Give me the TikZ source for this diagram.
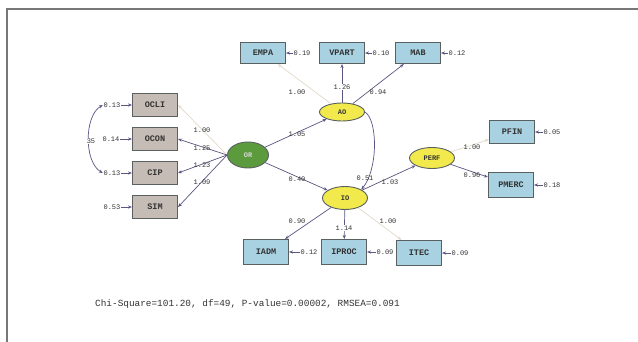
\documentclass[tikz,border=0pt]{standalone}
\usepackage{fontspec}
\newfontfamily\diagmono{Liberation Mono}
\usetikzlibrary{arrows.meta,shapes.geometric}

\definecolor{boxblue}{HTML}{A8D2E2}
\definecolor{boxgrey}{HTML}{C6BCB6}
\definecolor{latyellow}{HTML}{F2EA4C}
\definecolor{latgreen}{HTML}{5C9A3E}
\definecolor{edgedark}{HTML}{5A6060}
\definecolor{linec}{HTML}{5C5582}
\definecolor{faintc}{HTML}{E2DACA}
\definecolor{txt}{HTML}{333333}
\definecolor{framec}{HTML}{777777}

\tikzset{
  obs/.style={rectangle, draw=edgedark, line width=1.1pt, fill=#1,
    minimum width=45pt, minimum height=23pt, inner sep=0pt,
    font=\diagmono\bfseries\fontsize{8.5}{9}\selectfont, text=txt},
  obs/.default=boxblue,
  lat/.style={ellipse, draw=edgedark, line width=0.9pt, fill=#1,
    minimum width=45pt, minimum height=20pt, inner sep=0pt,
    font=\diagmono\bfseries\fontsize{7}{8}\selectfont, text=txt},
  val/.style={font=\diagmono\fontsize{7}{8}\selectfont, text=txt, inner sep=0.6pt},
  lbl/.style={val, fill=white},
  tip/.style={-{Stealth[length=4pt,width=3.2pt]}},
  loadline/.style={draw=linec, line width=0.7pt, tip},
  fixedline/.style={draw=faintc, line width=0.7pt, tip},
  errline/.style={draw=linec, line width=0.8pt, tip},
}

\begin{document}
\begin{tikzpicture}[x=1pt,y=-1pt]
  \useasboundingbox (0,0) rectangle (638,342);
  \fill[white] (0,0) rectangle (638,342);

  % frame
  \draw[framec, line width=1.3pt] (7,342) -- (7,9) -- (638,9);

  % observed indicators
  \node[obs=boxgrey] (OCLI) at (155,105) {OCLI};
  \node[obs=boxgrey] (OCON) at (155,139) {OCON};
  \node[obs=boxgrey] (CIP)  at (155,173) {CIP};
  \node[obs=boxgrey] (SIM)  at (155,207) {SIM};

  \node[obs, minimum height=21pt] (EMPA)  at (263,53) {EMPA};
  \node[obs, minimum height=21pt] (VPART) at (342,53) {VPART};
  \node[obs, minimum height=21pt] (MAB)   at (418,53) {MAB};

  \node[obs, minimum height=25pt] (IADM)  at (266,252) {IADM};
  \node[obs, minimum height=25pt] (IPROC) at (344,252) {IPROC};
  \node[obs, minimum height=25pt] (ITEC)  at (419,253) {ITEC};

  \node[obs] (PFIN)  at (512,132) {PFIN};
  \node[obs, minimum height=25pt] (PMERC) at (511,185) {PMERC};

  % latent variables
  \node[lat=latgreen, minimum width=41pt, minimum height=26pt, text=white!85!black] (OR) at (248,155) {OR};
  \node[lat=latyellow, minimum height=18pt] (AO)   at (342,112) {AO};
  \node[lat=latyellow, minimum height=23pt] (IO)   at (345,198) {IO};
  \node[lat=latyellow, minimum height=21pt] (PERF) at (432,158) {PERF};

  % error variances
  \node[val] (eOCLI) at (112,105) {0.13};
  \node[val] (eOCON) at (111,139) {0.14};
  \node[val] (eCIP)  at (112,173) {0.13};
  \node[val] (eSIM)  at (112,207) {0.53};
  \node[val] (eEMPA)  at (302,53) {0.19};
  \node[val] (eVPART) at (381,53) {0.10};
  \node[val] (eMAB)   at (457,53) {0.12};
  \node[val] (eIADM)  at (309,252) {0.12};
  \node[val] (eIPROC) at (385,252) {0.09};
  \node[val] (eITEC)  at (460,253) {0.09};
  \node[val] (ePFIN)  at (552,132) {0.05};
  \node[val] (ePMERC) at (552,185) {0.18};

  \foreach \e/\v in {eOCLI/OCLI, eOCON/OCON, eCIP/CIP, eSIM/SIM}
    \draw[errline] (\e.east) -- (\v.west);
  \foreach \e/\v in {eEMPA/EMPA, eVPART/VPART, eMAB/MAB, eIADM/IADM,
                     eIPROC/IPROC, eITEC/ITEC, ePFIN/PFIN, ePMERC/PMERC}
    \draw[errline] (\e.west) -- (\v.east);

  % error covariance
  \draw[linec, line width=0.7pt, {Stealth[length=4pt,width=3.2pt]}-{Stealth[length=4pt,width=3.2pt]}]
    (eOCLI.west) .. controls (84,116) and (84,162) .. (eCIP.west);
  \node[lbl] (cov) at (91,141) {35};

  % loadings of OR
  \draw[fixedline] (OR.west) -- (OCLI.east);
  \draw[loadline]  (OR.west) -- (OCON.east);
  \draw[loadline]  (OR.west) -- (CIP.east);
  \draw[loadline]  (OR.west) -- (SIM.east);
  \node[val] (l1) at (202,130) {1.00};
  \node[val] (l2) at (202,148) {1.25};
  \node[val] (l3) at (202,165) {1.23};
  \node[val] (l4) at (202,182) {1.09};

  % loadings of AO
  \draw[fixedline] (AO) -- (EMPA);
  \draw[loadline]  (AO) -- (VPART);
  \draw[loadline]  (AO) -- (MAB);
  \node[val] (l5) at (297,92) {1.00};
  \node[lbl] (l6) at (342,87) {1.26};
  \node[val] (l7) at (378,92) {0.94};

  % loadings of IO
  \draw[loadline]  (IO) -- (IADM);
  \draw[loadline]  (IO) -- (IPROC);
  \draw[fixedline] (IO) -- (ITEC);
  \node[val] (l8)  at (297,221) {0.90};
  \node[lbl] (l9)  at (344,228) {1.14};
  \node[val] (l10) at (388,221) {1.00};

  % loadings of PERF
  \draw[fixedline] (PERF) -- (PFIN);
  \draw[loadline]  (PERF) -- (PMERC);
  \node[val] (l11) at (472,147) {1.00};
  \node[val] (l12) at (472,175) {0.96};

  % structural paths
  \draw[loadline] (OR) -- (AO);
  \draw[loadline] (OR) -- (IO);
  \draw[loadline] (IO) -- (PERF);
  \draw[loadline] (AO.east) .. controls (378,120) and (378,170) .. (IO.north east);
  \node[val] (s1) at (297,134) {1.05};
  \node[val] (s2) at (297,179) {0.40};
  \node[val] (s3) at (365,178) {0.51};
  \node[val] (s4) at (390,182) {1.03};

  % fit statistics
  \node[anchor=west, font=\diagmono\fontsize{9.4}{10}\selectfont, text=txt, inner sep=0pt]
    (fit) at (95,304) {Chi-Square=101.20, df=49, P-value=0.00002, RMSEA=0.091};
\end{tikzpicture}
\end{document}
